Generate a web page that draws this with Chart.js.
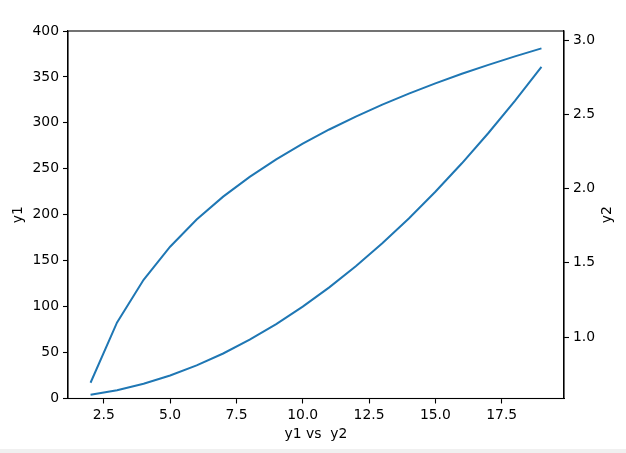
<!DOCTYPE html>
<html>
<head>
<meta charset="utf-8">
<script src="https://cdn.jsdelivr.net/npm/chart.js@4/dist/chart.umd.min.js"></script>
<style>
html,body{margin:0;padding:0;background:#fff;}
#wrap{position:relative;width:626px;height:453px;overflow:hidden;}
#strip{position:absolute;left:0;bottom:0;width:626px;height:4px;background:#f0f0f0;}
</style>
</head>
<body>
<div id="wrap"><canvas id="c" width="626" height="449"></canvas><div id="strip"></div></div>
<script>
const xValues = [2,3,4,5,6,7,8,9,10,11,12,13,14,15,16,17,18,19];
const y1Values = [4,9,16,25,36,49,64,81,100,121,144,169,196,225,256,289,324,361];
const y2Values = [0.693,1.099,1.386,1.609,1.792,1.946,2.079,2.197,2.303,2.398,2.485,2.565,2.639,2.708,2.773,2.833,2.890,2.944];
const xTicks = [2.5,5.0,7.5,10.0,12.5,15.0,17.5];
const y1Ticks = [0,50,100,150,200,250,300,350,400];
const y2Ticks = [1.0,1.5,2.0,2.5,3.0];
const xTitle = 'y1 vs  y2';
const y1Title = 'y1';
const y2Title = 'y2';

const color = '#1f77b4';
const font = {family:'DejaVu Sans', size:13.9};

const boxPlugin = {
  id:'box',
  afterDraw(chart){
    const {ctx, chartArea:a} = chart;
    ctx.save();
    ctx.strokeStyle = '#000';
    ctx.lineWidth = 1.1;
    ctx.strokeRect(a.left, a.top, a.right-a.left, a.bottom-a.top);
    ctx.fillStyle = '#000';
    ctx.font = '13.9px "DejaVu Sans"';
    ctx.textAlign = 'center';
    ctx.textBaseline = 'middle';
    ctx.translate(607, (a.top+a.bottom)/2);
    ctx.rotate(-Math.PI/2);
    ctx.fillText(y2Title, 0, 0);
    ctx.restore();
  }
};

new Chart(document.getElementById('c'), {
  type:'line',
  data:{
    datasets:[
      {label:'y1', data:xValues.map((x,i)=>({x, y:y1Values[i]})), yAxisID:'y', borderColor:color, backgroundColor:color, borderWidth:2, pointRadius:0, tension:0, fill:false},
      {label:'y2', data:xValues.map((x,i)=>({x, y:y2Values[i]})), yAxisID:'y2', borderColor:color, backgroundColor:color, borderWidth:2, pointRadius:0, tension:0, fill:false}
    ]
  },
  options:{
    responsive:false,
    animation:false,
    devicePixelRatio:1,
    layout:{padding:{top:31,left:0,right:0,bottom:0}},
    plugins:{legend:{display:false}, tooltip:{enabled:false}},
    scales:{
      x:{
        type:'linear', min:1.15, max:19.85,
        afterBuildTicks(s){ s.ticks = xTicks.map(v=>({value:v})); },
        afterFit(s){ s.height = 50.5; },
        ticks:{color:'#000', font, padding:4, maxRotation:0, autoSkip:false, callback:v=>Number(v).toFixed(1)},
        grid:{drawOnChartArea:false, drawTicks:true, tickLength:5, color:'#000', tickWidth:1.1},
        border:{display:true, color:'#000', width:1.1},
        title:{display:true, text:xTitle, color:'#000', font, padding:{top:0,bottom:6.7}}
      },
      y:{
        type:'linear', position:'left', min:0, max:400,
        afterBuildTicks(s){ s.ticks = y1Ticks.map(v=>({value:v})); },
        afterFit(s){ s.width = 68; },
        ticks:{color:'#000', font, padding:4, callback:v=>String(v)},
        grid:{drawOnChartArea:false, drawTicks:true, tickLength:5, color:'#000', tickWidth:1.1},
        border:{display:true, color:'#000', width:1.1},
        title:{display:true, text:y1Title, color:'#000', font, padding:{top:9.7,bottom:0}}
      },
      y2:{
        type:'linear', position:'right', min:0.587, max:3.061,
        afterBuildTicks(s){ s.ticks = y2Ticks.map(v=>({value:v})); },
        afterFit(s){ s.width = 62; },
        ticks:{color:'#000', font, padding:4, callback:v=>Number(v).toFixed(1)},
        grid:{drawOnChartArea:false, drawTicks:true, tickLength:5, color:'#000', tickWidth:1.1},
        border:{display:true, color:'#000', width:1.1}
      }
    }
  },
  plugins:[boxPlugin]
});
</script>
</body>
</html>
